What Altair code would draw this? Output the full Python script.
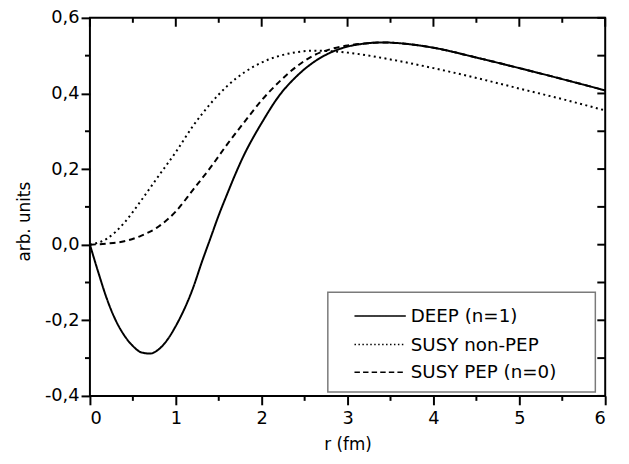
import altair as alt
import pandas as pd

# ---- data ----
series_names = ["DEEP (n=1)", "SUSY non-PEP", "SUSY PEP (n=0)"]

deep_r = [0, 0.1, 0.2, 0.3, 0.4, 0.5, 0.6, 0.7, 0.8, 0.9, 1.0, 1.1, 1.2, 1.3, 1.4,
          1.5, 1.6, 1.7, 1.8, 1.9, 2.0, 2.2, 2.4, 2.6, 2.8, 3.0, 3.2, 3.4, 3.6, 3.8,
          4.0, 4.5, 5.0, 5.5, 6.0]
deep_v = [0, -0.075, -0.145, -0.2, -0.24, -0.268, -0.285, -0.288, -0.277, -0.252,
          -0.215, -0.17, -0.115, -0.048, 0.015, 0.078, 0.135, 0.19, 0.24, 0.283,
          0.322, 0.393, 0.444, 0.482, 0.508, 0.524, 0.532, 0.535, 0.533, 0.528,
          0.521, 0.495, 0.467, 0.438, 0.408]

nonpep_r = [0, 0.2, 0.4, 0.6, 0.8, 1.0, 1.2, 1.4, 1.6, 1.8, 2.0, 2.2, 2.4, 2.6, 2.8,
            3.0, 3.5, 4.0, 4.5, 5.0, 5.5, 6.0]
nonpep_v = [0, 0.016, 0.058, 0.118, 0.182, 0.245, 0.314, 0.372, 0.42, 0.456, 0.482,
            0.499, 0.509, 0.513, 0.512, 0.508, 0.49, 0.467, 0.441, 0.413, 0.385, 0.355]

pep_r = [0, 0.2, 0.4, 0.6, 0.8, 1.0, 1.2, 1.4, 1.6, 1.8, 2.0, 2.2, 2.4, 2.6, 2.8, 3.0,
         3.2, 3.4, 3.6, 3.8, 4.0, 4.5, 5.0, 5.5, 6.0]
pep_v = [0, 0.003, 0.009, 0.024, 0.048, 0.088, 0.145, 0.203, 0.266, 0.325, 0.382,
         0.43, 0.47, 0.5, 0.517, 0.527, 0.532, 0.535, 0.533, 0.528, 0.521, 0.495,
         0.467, 0.438, 0.408]

x_major = [0, 1, 2, 3, 4, 5, 6]
x_minor = [0.5, 1.5, 2.5, 3.5, 4.5, 5.5]
y_major = [-0.4, -0.2, 0.0, 0.2, 0.4, 0.6]
y_minor = [-0.3, -0.1, 0.1, 0.3, 0.5]

rows = []
for name, rs, vs in zip(series_names, [deep_r, nonpep_r, pep_r], [deep_v, nonpep_v, pep_v]):
    for r, v in zip(rs, vs):
        rows.append({"series": name, "r": r, "v": v})
df = pd.DataFrame(rows)

W, H = 522, 383
FONT = "DejaVu Sans"
DASHES = [[1, 0], [2, 3.5], [6, 4]]
LEGEND_DASHES = [[1, 0], [1.5, 2.5], [5.5, 3.2]]

xs = alt.Scale(domain=[0, 6], nice=False, zero=False)
ys = alt.Scale(domain=[-0.4, 0.6], nice=False, zero=False)

x_axis = alt.Axis(
    values=x_major, tickSize=9, tickWidth=2, tickColor="black", domain=False, grid=False,
    labelExpr="format(datum.value, 'd')", labelPadding=5, labelFont=FONT, labelFontSize=18,
    labelColor="black", title="r (fm)", titleFont=FONT, titleFontSize=17,
    titleFontWeight="normal", titleColor="black", titleX=261, titleY=49,
    titleAlign="center", titleBaseline="middle")
y_axis = alt.Axis(
    values=y_major, tickSize=9, tickWidth=2, tickColor="black", domain=False, grid=False,
    labelExpr="(datum.value < 0 ? '-' : '') + replace(format(abs(datum.value), '.1f'), '.', ',')",
    labelPadding=2, labelFont=FONT, labelFontSize=18, labelColor="black",
    title="arb. units", titleFont=FONT, titleFontSize=17, titleFontWeight="normal",
    titleColor="black", titleX=-66, titleY=206, titleAngle=270, titleAlign="center",
    titleBaseline="middle")

lines = alt.Chart(df).mark_line(interpolate="monotone", color="black", strokeWidth=2).encode(
    x=alt.X("r:Q", scale=xs, axis=x_axis),
    y=alt.Y("v:Q", scale=ys, axis=y_axis),
    strokeDash=alt.StrokeDash("series:N",
        scale=alt.Scale(domain=series_names, range=DASHES), legend=None),
)

tick_style = dict(color="black", strokeWidth=2)

top_major = alt.Chart(pd.DataFrame({"r": x_major})).mark_rule(**tick_style).encode(
    x=alt.X("r:Q", scale=xs, axis=x_axis), y=alt.value(0), y2=alt.value(9))
top_minor = alt.Chart(pd.DataFrame({"r": x_minor})).mark_rule(**tick_style).encode(
    x=alt.X("r:Q", scale=xs, axis=x_axis), y=alt.value(0), y2=alt.value(5))
bottom_minor = alt.Chart(pd.DataFrame({"r": x_minor})).mark_rule(**tick_style).encode(
    x=alt.X("r:Q", scale=xs, axis=x_axis), y=alt.value(H), y2=alt.value(H + 5))
left_minor = alt.Chart(pd.DataFrame({"v": y_minor})).mark_rule(**tick_style).encode(
    y=alt.Y("v:Q", scale=ys, axis=y_axis), x=alt.value(0), x2=alt.value(-5))
right_all = alt.Chart(pd.DataFrame({"v": y_major + y_minor})).mark_rule(**tick_style).encode(
    y=alt.Y("v:Q", scale=ys, axis=y_axis), x=alt.value(W), x2=alt.value(W - 8))

# ---- legend box drawn inside the plot (bottom right) ----
legend_layers = []
box = alt.Chart(pd.DataFrame({"series": [series_names[0]]})).mark_rect(
    fill="white", stroke="#7a7a7a", strokeWidth=1.5).encode(
    x=alt.value(241), x2=alt.value(512), y=alt.value(278), y2=alt.value(379))
legend_layers.append(box)
row_y = [302, 331, 359]
for name, dash, yy in zip(series_names, LEGEND_DASHES, row_y):
    d = pd.DataFrame({"series": [name]})
    legend_layers.append(
        alt.Chart(d).mark_rule(color="black", strokeWidth=1.6, strokeDash=dash).encode(
            x=alt.value(268), x2=alt.value(320), y=alt.value(yy)))
    legend_layers.append(
        alt.Chart(d).mark_text(align="left", baseline="middle", font=FONT, fontSize=18.5,
                               color="black").encode(
            text=alt.Text("series:N"), x=alt.value(325), y=alt.value(yy)))

chart = alt.layer(lines, top_major, top_minor, bottom_minor, left_minor, right_all,
                  *legend_layers).properties(
    width=W, height=H,
    padding={"left": 83, "top": 7, "right": 16, "bottom": 66},
    autosize=alt.AutoSizeParams(type="none"),
    background="white",
).configure_view(stroke="black", strokeWidth=2)

chart.save("out.html", embed_options={"renderer": "svg", "actions": False})
